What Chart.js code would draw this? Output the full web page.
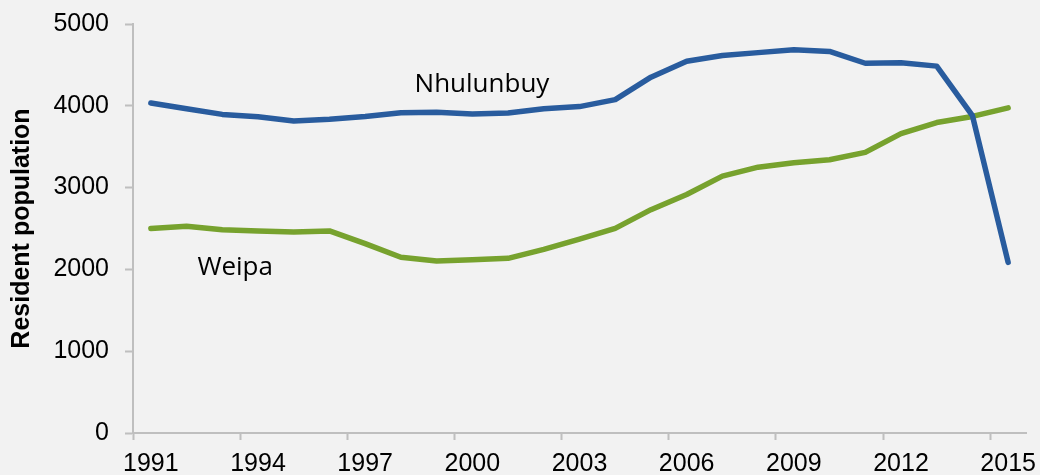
<!DOCTYPE html>
<html>
<head>
<meta charset="utf-8">
<script src="https://cdn.jsdelivr.net/npm/chart.js@4"></script>
<style>
html,body{margin:0;padding:0;background:#f2f2f2;}
#wrap{width:1040px;height:475px;}
</style>
</head>
<body>
<div id="wrap"><canvas id="c" width="1040" height="475"></canvas></div>
<script>
const years = ['1991','1992','1993','1994','1995','1996','1997','1998','1999','2000','2001','2002','2003','2004','2005','2006','2007','2008','2009','2010','2011','2012','2013','2014','2015'];
const tickLabels = ['1991','1994','1997','2000','2003','2006','2009','2012','2015'];
const nhulunbuy = [4035,3965,3895,3865,3815,3835,3870,3915,3920,3900,3912,3965,3990,4075,4350,4545,4615,4650,4685,4665,4520,4525,4485,3880,2085];
const weipa = [2500,2528,2485,2468,2458,2470,2315,2148,2103,2118,2135,2245,2370,2502,2730,2915,3140,3250,3305,3340,3430,3660,3795,3870,3975];
const yTicks = [0,1000,2000,3000,4000,5000];
const labelsText = [
  {text:'Nhulunbuy', x:9.27, y:4169},
  {text:'Weipa', x:2.36, y:1932}
];

const AXIS = '#bfbfbf';
const FONT = "'Liberation Sans', Arial, sans-serif";

const textPlugin = {
  id:'seriesLabels',
  afterDatasetsDraw(chart){
    const {ctx, scales:{x,y}} = chart;
    ctx.save();
    ctx.fillStyle = '#000';
    ctx.font = "26px 'Open Sans', sans-serif";
    ctx.textAlign = 'center';
    ctx.textBaseline = 'alphabetic';
    labelsText.forEach(l => {
      ctx.fillText(l.text, x.getPixelForValue(l.x), y.getPixelForValue(l.y));
    });
    ctx.restore();
  }
};

new Chart(document.getElementById('c'), {
  type:'line',
  data:{
    labels: years,
    datasets:[
      {label:'Nhulunbuy', data:nhulunbuy, borderColor:'#295c9e', backgroundColor:'#295c9e', borderWidth:5.5, pointRadius:0, tension:0, borderCapStyle:'round', borderJoinStyle:'round'},
      {label:'Weipa', data:weipa, borderColor:'#77a22e', backgroundColor:'#77a22e', borderWidth:5.5, pointRadius:0, tension:0, borderCapStyle:'round', borderJoinStyle:'round'}
    ]
  },
  options:{
    responsive:false,
    animation:false,
    layout:{padding:{top:24,right:14,bottom:0,left:0}},
    plugins:{legend:{display:false}, tooltip:{enabled:false}},
    scales:{
      x:{
        type:'category',
        offset:true,
        grid:{display:true, offset:true, drawOnChartArea:false, drawTicks:true, tickLength:7, tickWidth:2,
          tickColor: c => (c.index % 3 === 0 && c.index < years.length) ? AXIS : 'rgba(0,0,0,0)'},
        border:{display:true, color:AXIS, width:2},
        ticks:{autoSkip:false, maxRotation:0, minRotation:0, padding:9, color:'#000',
          font:{family:FONT, size:25},
          callback:(v,i) => tickLabels.includes(years[i]) ? years[i] : ''},
        afterFit: s => { s.height = 42; s.paddingLeft = 0; s.paddingRight = 0; }
      },
      y:{
        min:0, max:5000,
        afterBuildTicks: s => { s.ticks = yTicks.map(v => ({value:v})); },
        grid:{display:true, drawOnChartArea:false, drawTicks:true, tickLength:8, tickWidth:2, tickColor:AXIS},
        border:{display:true, color:AXIS, width:2},
        ticks:{padding:16, color:'#000', font:{family:FONT, size:25}, callback: v => String(v)},
        title:{display:true, text:'Resident population', color:'#000',
          font:{family:FONT, size:25, weight:'bold', lineHeight:1}, padding:{top:10,bottom:0}},
        afterFit: s => { s.width = 133; s.paddingTop = 0; s.paddingBottom = 0; }
      }
    }
  },
  plugins:[textPlugin]
});
</script>
</body>
</html>
